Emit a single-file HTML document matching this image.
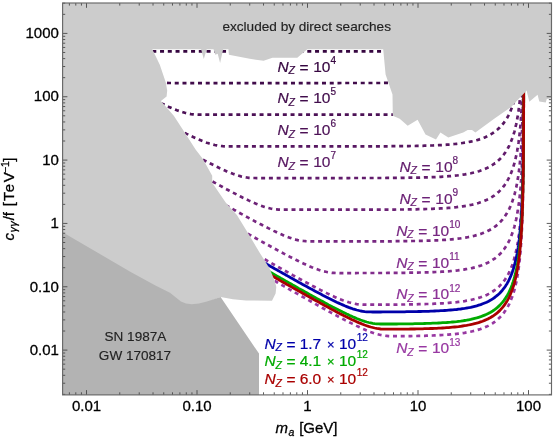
<!DOCTYPE html>
<html><head><meta charset="utf-8"><title>ALP sensitivity plot</title>
<style>.t{stroke-width:0.3px}.u{stroke-width:0.15px}.v{stroke-width:0.22px}html,body{margin:0;padding:0;background:#fff;}body{width:555px;height:438px;overflow:hidden;position:relative}</style>
</head><body>
<svg width="555" height="438" viewBox="0 0 555 438" style="position:absolute;left:0;top:0;will-change:transform">
<rect width="555" height="438" fill="#fff"/>
<path d="M152.3,51.4 L154.3,51.4 L156.3,51.4 L158.3,51.4 L160.3,51.4 L162.3,51.4 L164.3,51.4 L166.3,51.4 L168.3,51.4 L170.3,51.4 L172.3,51.4 L174.3,51.4 L176.3,51.4 L178.3,51.4 L180.3,51.4 L182.3,51.4 L184.3,51.4 L186.3,51.4 L188.3,51.4 L190.3,51.4 L192.3,51.4 L194.3,51.4 L196.3,51.4 L198.3,51.4 L200.3,51.4 L202.3,51.4 L204.3,51.4 L206.3,51.4 L208.3,51.4 L210.3,51.4 L212.3,51.4 L214.3,51.4 L216.3,51.4 L218.3,51.4 L220.3,51.4 L222.3,51.4 L224.3,51.4 L226.3,51.4 L228.3,51.4 L230.3,51.4 L232.3,51.4 L234.3,51.4 L236.3,51.4 L238.3,51.4 L240.3,51.4 L242.3,51.4 L244.3,51.4 L246.3,51.4 L248.3,51.4 L250.3,51.4 L252.3,51.4 L254.3,51.4 L256.3,51.4 L258.3,51.4 L260.3,51.4 L262.3,51.4 L264.3,51.4 L266.3,51.4 L268.3,51.4 L270.3,51.4 L272.3,51.4 L274.3,51.4 L276.3,51.4 L278.3,51.4 L280.3,51.4 L282.3,51.4 L284.3,51.4 L286.3,51.4 L288.3,51.4 L290.3,51.4 L292.3,51.4 L294.3,51.4 L296.3,51.4 L298.3,51.4 L300.3,51.4 L302.3,51.4 L304.3,51.4 L306.3,51.4 L308.3,51.4 L310.3,51.4 L312.3,51.4 L314.3,51.4 L316.3,51.4 L318.3,51.4 L320.3,51.4 L322.3,51.4 L324.3,51.4 L326.3,51.4 L328.3,51.4 L330.3,51.4 L332.3,51.4 L334.3,51.4 L336.3,51.4 L338.3,51.4 L340.3,51.4 L342.3,51.4 L344.3,51.4 L346.3,51.4 L348.3,51.4 L350.3,51.4 L352.3,51.4 L354.3,51.4 L356.3,51.4 L358.3,51.4 L360.3,51.4 L362.3,51.4 L364.3,51.3 L366.3,51.3 L368.3,51.3 L370.3,51.3 L372.3,51.3 L374.3,51.3 L376.3,51.3 L378.3,51.3 L380.3,51.3 L382.3,51.3 L384.3,51.3 L386.0,51.3" fill="none" stroke="#360640" stroke-width="2.7" stroke-dasharray="4 3.75"/>
<path d="M167.0,82.8 L169.0,83.0 L171.0,83.0 L173.0,83.1 L175.0,83.1 L177.0,83.1 L179.0,83.1 L181.0,83.1 L183.0,83.1 L185.0,83.1 L187.0,83.1 L189.0,83.1 L191.0,83.1 L193.0,83.1 L195.0,83.1 L197.0,83.1 L199.0,83.1 L201.0,83.1 L203.0,83.1 L205.0,83.1 L207.0,83.1 L209.0,83.1 L211.0,83.1 L213.0,83.1 L215.0,83.1 L217.0,83.1 L219.0,83.1 L221.0,83.1 L223.0,83.1 L225.0,83.1 L227.0,83.1 L229.0,83.1 L231.0,83.1 L233.0,83.1 L235.0,83.1 L237.0,83.1 L239.0,83.1 L241.0,83.1 L243.0,83.1 L245.0,83.1 L247.0,83.1 L249.0,83.1 L251.0,83.1 L253.0,83.1 L255.0,83.1 L257.0,83.1 L259.0,83.1 L261.0,83.1 L263.0,83.1 L265.0,83.1 L267.0,83.1 L269.0,83.1 L271.0,83.1 L273.0,83.1 L275.0,83.1 L277.0,83.1 L279.0,83.1 L281.0,83.1 L283.0,83.1 L285.0,83.1 L287.0,83.1 L289.0,83.1 L291.0,83.1 L293.0,83.1 L295.0,83.1 L297.0,83.1 L299.0,83.1 L301.0,83.1 L303.0,83.1 L305.0,83.1 L307.0,83.1 L309.0,83.1 L311.0,83.1 L313.0,83.1 L315.0,83.1 L317.0,83.1 L319.0,83.1 L321.0,83.1 L323.0,83.1 L325.0,83.1 L327.0,83.1 L329.0,83.1 L331.0,83.1 L333.0,83.1 L335.0,83.1 L337.0,83.1 L339.0,83.1 L341.0,83.0 L343.0,83.0 L345.0,83.0 L347.0,83.0 L349.0,83.0 L351.0,83.0 L353.0,83.0 L355.0,83.0 L357.0,83.0 L359.0,83.0 L361.0,83.0 L363.0,83.0 L365.0,83.0 L367.0,83.0 L369.0,83.0 L371.0,83.0 L373.0,83.0 L375.0,83.0 L377.0,83.0 L379.0,83.0 L381.0,83.0 L383.0,83.0 L385.0,82.9 L387.0,82.9 L389.0,82.9 L391.0,82.9 L392.0,82.9" fill="none" stroke="#410c4b" stroke-width="2.7" stroke-dasharray="4 3.75"/>
<path d="M160.9,103.1 L162.9,104.1 L164.9,105.0 L166.9,105.9 L168.9,106.9 L170.9,107.7 L172.9,108.6 L174.9,109.4 L176.9,110.2 L178.9,110.9 L180.9,111.6 L182.9,112.2 L184.9,112.8 L186.9,113.3 L188.9,113.7 L190.9,114.1 L192.9,114.3 L194.9,114.5 L196.9,114.6 L198.9,114.7 L200.9,114.7 L202.9,114.7 L204.9,114.7 L206.9,114.7 L208.9,114.7 L210.9,114.7 L212.9,114.7 L214.9,114.7 L216.9,114.7 L218.9,114.7 L220.9,114.7 L222.9,114.7 L224.9,114.7 L226.9,114.7 L228.9,114.7 L230.9,114.7 L232.9,114.7 L234.9,114.7 L236.9,114.7 L238.9,114.7 L240.9,114.7 L242.9,114.7 L244.9,114.7 L246.9,114.7 L248.9,114.7 L250.9,114.7 L252.9,114.7 L254.9,114.7 L256.9,114.7 L258.9,114.7 L260.9,114.7 L262.9,114.7 L264.9,114.7 L266.9,114.7 L268.9,114.7 L270.9,114.7 L272.9,114.7 L274.9,114.7 L276.9,114.7 L278.9,114.7 L280.9,114.7 L282.9,114.7 L284.9,114.7 L286.9,114.7 L288.9,114.7 L290.9,114.7 L292.9,114.7 L294.9,114.7 L296.9,114.7 L298.9,114.7 L300.9,114.7 L302.9,114.7 L304.9,114.7 L306.9,114.7 L308.9,114.7 L310.9,114.7 L312.9,114.7 L314.9,114.7 L316.9,114.7 L318.9,114.7 L320.9,114.7 L322.9,114.7 L324.9,114.7 L326.9,114.7 L328.9,114.7 L330.9,114.7 L332.9,114.7 L334.9,114.7 L336.9,114.7 L338.9,114.7 L340.9,114.7 L342.9,114.7 L344.9,114.7 L346.9,114.7 L348.9,114.7 L350.9,114.7 L352.9,114.7 L354.9,114.7 L356.9,114.7 L358.9,114.7 L360.9,114.7 L362.9,114.7 L364.9,114.7 L366.9,114.7 L368.9,114.7 L370.9,114.7 L372.9,114.7 L374.9,114.7 L376.9,114.6 L378.9,114.6 L380.9,114.6 L382.9,114.6 L384.9,114.6 L386.9,114.6 L388.9,114.6 L390.9,114.6 L392.9,114.6 L394.9,114.5 L395.0,114.5" fill="none" stroke="#4c1156" stroke-width="2.7" stroke-dasharray="4 3.75"/>
<path d="M184.7,132.9 L186.7,133.9 L188.7,134.8 L190.7,135.8 L192.7,136.8 L194.7,137.7 L196.7,138.6 L198.7,139.5 L200.7,140.3 L202.7,141.1 L204.7,141.9 L206.7,142.7 L208.7,143.3 L210.7,144.0 L212.7,144.5 L214.7,145.0 L216.7,145.4 L218.7,145.8 L220.7,146.0 L222.7,146.2 L224.7,146.3 L226.7,146.4 L228.7,146.4 L230.7,146.4 L232.7,146.4 L234.7,146.4 L236.7,146.4 L238.7,146.4 L240.7,146.4 L242.7,146.4 L244.7,146.4 L246.7,146.4 L248.7,146.4 L250.7,146.4 L252.7,146.4 L254.7,146.4 L256.7,146.4 L258.7,146.4 L260.7,146.4 L262.7,146.4 L264.7,146.4 L266.7,146.4 L268.7,146.4 L270.7,146.4 L272.7,146.4 L274.7,146.4 L276.7,146.4 L278.7,146.4 L280.7,146.4 L282.7,146.4 L284.7,146.4 L286.7,146.4 L288.7,146.4 L290.7,146.4 L292.7,146.4 L294.7,146.4 L296.7,146.4 L298.7,146.4 L300.7,146.4 L302.7,146.4 L304.7,146.4 L306.7,146.4 L308.7,146.4 L310.7,146.4 L312.7,146.4 L314.7,146.4 L316.7,146.4 L318.7,146.4 L320.7,146.4 L322.7,146.4 L324.7,146.4 L326.7,146.4 L328.7,146.4 L330.7,146.4 L332.7,146.4 L334.7,146.4 L336.7,146.4 L338.7,146.4 L340.7,146.4 L342.7,146.4 L344.7,146.4 L346.7,146.4 L348.7,146.4 L350.7,146.4 L352.7,146.4 L354.7,146.4 L356.7,146.4 L358.7,146.4 L360.7,146.4 L362.7,146.4 L364.7,146.4 L366.7,146.4 L368.7,146.3 L370.7,146.3 L372.7,146.3 L374.7,146.3 L376.7,146.3 L378.7,146.3 L380.7,146.3 L382.7,146.3 L384.7,146.3 L386.7,146.3 L388.7,146.3 L390.7,146.2 L392.7,146.2 L394.7,146.2 L396.7,146.2 L398.7,146.2 L400.7,146.2 L402.7,146.1 L404.7,146.1 L406.7,146.1 L408.7,146.1 L410.7,146.0 L412.7,146.0 L414.7,146.0 L416.7,145.9 L418.7,145.9 L420.7,145.8 L422.7,145.8 L424.7,145.7 L426.7,145.7 L428.7,145.6 L430.7,145.5 L432.7,145.5 L434.7,145.4 L436.7,145.3 L438.7,145.2 L440.7,145.1 L442.7,145.0 L444.7,144.9 L446.7,144.7 L448.7,144.6 L450.7,144.4 L452.7,144.2 L454.7,144.0 L456.7,143.8 L458.7,143.6 L460.7,143.3 L462.7,143.0 L464.7,142.7 L466.7,142.4 L468.7,142.0 L470.7,141.6 L472.7,141.2 L474.7,140.7 L476.7,140.2 L478.7,139.6 L480.7,138.9 L482.7,138.2 L484.7,137.4 L486.7,136.5 L488.7,135.5 L490.7,134.4 L492.7,133.2 L494.7,131.8 L495.0,131.6 L496.3,130.6 L497.5,129.6 L498.6,128.6 L499.7,127.6 L500.6,126.6 L501.5,125.6 L502.4,124.6 L503.2,123.6 L504.0,122.6 L504.7,121.6 L505.4,120.6 L506.0,119.6 L506.7,118.6 L507.3,117.6 L507.8,116.6 L508.4,115.6 L508.9,114.6 L509.4,113.6 L509.8,112.6 L510.3,111.6 L510.7,110.6 L511.1,109.6 L511.5,108.6 L511.9,107.6 L512.3,106.6 L512.6,105.6 L512.9,104.6 L513.3,103.6 L513.6,102.6 L513.9,101.6 L514.2,100.6 L514.5,99.6 L514.7,98.6 L515.0,97.6 L515.2,96.6 L515.5,95.6 L515.7,94.6 L515.9,93.6 L516.2,92.6 L516.4,91.6 L516.6,90.6 L516.8,89.6 L517.0,88.6 L517.2,87.6 L517.3,86.6" fill="none" stroke="#571761" stroke-width="2.7" stroke-dasharray="4 3.75"/>
<path d="M202.9,159.6 L204.9,160.7 L206.9,161.7 L208.9,162.8 L210.9,163.8 L212.9,164.8 L214.9,165.8 L216.9,166.8 L218.9,167.8 L220.9,168.7 L222.9,169.6 L224.9,170.5 L226.9,171.4 L228.9,172.2 L230.9,173.0 L232.9,173.8 L234.9,174.5 L236.9,175.2 L238.9,175.8 L240.9,176.4 L242.9,176.8 L244.9,177.2 L246.9,177.5 L248.9,177.8 L250.9,177.9 L252.9,178.0 L254.9,178.0 L256.9,178.1 L258.9,178.1 L260.9,178.1 L262.9,178.1 L264.9,178.1 L266.9,178.1 L268.9,178.1 L270.9,178.1 L272.9,178.1 L274.9,178.1 L276.9,178.1 L278.9,178.1 L280.9,178.1 L282.9,178.1 L284.9,178.1 L286.9,178.1 L288.9,178.1 L290.9,178.1 L292.9,178.1 L294.9,178.1 L296.9,178.1 L298.9,178.1 L300.9,178.1 L302.9,178.1 L304.9,178.1 L306.9,178.1 L308.9,178.1 L310.9,178.1 L312.9,178.1 L314.9,178.1 L316.9,178.1 L318.9,178.1 L320.9,178.1 L322.9,178.1 L324.9,178.1 L326.9,178.1 L328.9,178.1 L330.9,178.1 L332.9,178.1 L334.9,178.1 L336.9,178.1 L338.9,178.1 L340.9,178.1 L342.9,178.1 L344.9,178.1 L346.9,178.1 L348.9,178.1 L350.9,178.0 L352.9,178.0 L354.9,178.0 L356.9,178.0 L358.9,178.0 L360.9,178.0 L362.9,178.0 L364.9,178.0 L366.9,178.0 L368.9,178.0 L370.9,178.0 L372.9,178.0 L374.9,178.0 L376.9,178.0 L378.9,178.0 L380.9,178.0 L382.9,178.0 L384.9,178.0 L386.9,177.9 L388.9,177.9 L390.9,177.9 L392.9,177.9 L394.9,177.9 L396.9,177.9 L398.9,177.9 L400.9,177.8 L402.9,177.8 L404.9,177.8 L406.9,177.8 L408.9,177.7 L410.9,177.7 L412.9,177.7 L414.9,177.6 L416.9,177.6 L418.9,177.6 L420.9,177.5 L422.9,177.5 L424.9,177.4 L426.9,177.3 L428.9,177.3 L430.9,177.2 L432.9,177.1 L434.9,177.1 L436.9,177.0 L438.9,176.9 L440.9,176.8 L442.9,176.6 L444.9,176.5 L446.9,176.4 L448.9,176.2 L450.9,176.1 L452.9,175.9 L454.9,175.7 L456.9,175.5 L458.9,175.2 L460.9,175.0 L462.9,174.7 L464.9,174.4 L466.9,174.0 L468.9,173.7 L470.9,173.3 L472.9,172.8 L474.9,172.3 L476.9,171.8 L478.9,171.2 L480.9,170.5 L482.9,169.8 L484.9,169.0 L486.9,168.1 L488.9,167.1 L490.9,166.0 L492.9,164.7 L494.9,163.3 L495.0,163.3 L496.3,162.3 L497.5,161.3 L498.6,160.3 L499.7,159.3 L500.6,158.3 L501.5,157.3 L502.4,156.3 L503.2,155.3 L504.0,154.3 L504.7,153.3 L505.4,152.3 L506.0,151.3 L506.7,150.3 L507.3,149.3 L507.8,148.3 L508.4,147.3 L508.9,146.3 L509.4,145.3 L509.8,144.3 L510.3,143.3 L510.7,142.3 L511.1,141.3 L511.5,140.3 L511.9,139.3 L512.3,138.3 L512.6,137.3 L512.9,136.3 L513.3,135.3 L513.6,134.3 L513.9,133.3 L514.2,132.3 L514.5,131.3 L514.7,130.3 L515.0,129.3 L515.2,128.3 L515.5,127.3 L515.7,126.3 L515.9,125.3 L516.2,124.3 L516.4,123.3 L516.6,122.3 L516.8,121.3 L517.0,120.3 L517.2,119.3 L517.3,118.3 L517.5,117.3 L517.7,116.3 L517.9,115.3 L518.0,114.3 L518.2,113.3 L518.3,112.3 L518.5,111.3 L518.6,110.3 L518.7,109.3 L518.9,108.3 L519.0,107.3 L519.1,106.3 L519.3,105.3 L519.4,104.3 L519.5,103.3 L519.6,102.3 L519.7,101.3 L519.8,100.3 L519.9,99.3 L520.0,98.3 L520.1,97.3 L520.2,96.3 L520.3,95.3 L520.4,94.3 L520.5,93.3 L520.6,92.3 L520.6,91.3 L520.7,90.3 L520.8,89.3 L520.9,88.3 L520.9,87.3 L521.0,86.3" fill="none" stroke="#621c6c" stroke-width="2.7" stroke-dasharray="4 3.75"/>
<path d="M212.5,181.5 L214.5,182.6 L216.5,183.7 L218.5,184.8 L220.5,185.9 L222.5,187.0 L224.5,188.1 L226.5,189.2 L228.5,190.2 L230.5,191.3 L232.5,192.4 L234.5,193.4 L236.5,194.4 L238.5,195.5 L240.5,196.5 L242.5,197.5 L244.5,198.4 L246.5,199.4 L248.5,200.4 L250.5,201.3 L252.5,202.2 L254.5,203.1 L256.5,203.9 L258.5,204.7 L260.5,205.5 L262.5,206.2 L264.5,206.9 L266.5,207.5 L268.5,208.0 L270.5,208.5 L272.5,208.9 L274.5,209.2 L276.5,209.4 L278.5,209.6 L280.5,209.7 L282.5,209.7 L284.5,209.7 L286.5,209.7 L288.5,209.7 L290.5,209.7 L292.5,209.7 L294.5,209.7 L296.5,209.7 L298.5,209.7 L300.5,209.7 L302.5,209.7 L304.5,209.7 L306.5,209.7 L308.5,209.7 L310.5,209.7 L312.5,209.7 L314.5,209.7 L316.5,209.7 L318.5,209.7 L320.5,209.7 L322.5,209.7 L324.5,209.7 L326.5,209.7 L328.5,209.7 L330.5,209.7 L332.5,209.7 L334.5,209.7 L336.5,209.7 L338.5,209.7 L340.5,209.7 L342.5,209.7 L344.5,209.7 L346.5,209.7 L348.5,209.7 L350.5,209.7 L352.5,209.7 L354.5,209.7 L356.5,209.7 L358.5,209.7 L360.5,209.7 L362.5,209.7 L364.5,209.7 L366.5,209.7 L368.5,209.7 L370.5,209.7 L372.5,209.7 L374.5,209.7 L376.5,209.7 L378.5,209.7 L380.5,209.6 L382.5,209.6 L384.5,209.6 L386.5,209.6 L388.5,209.6 L390.5,209.6 L392.5,209.6 L394.5,209.6 L396.5,209.5 L398.5,209.5 L400.5,209.5 L402.5,209.5 L404.5,209.5 L406.5,209.4 L408.5,209.4 L410.5,209.4 L412.5,209.3 L414.5,209.3 L416.5,209.3 L418.5,209.2 L420.5,209.2 L422.5,209.1 L424.5,209.1 L426.5,209.0 L428.5,209.0 L430.5,208.9 L432.5,208.8 L434.5,208.7 L436.5,208.6 L438.5,208.6 L440.5,208.4 L442.5,208.3 L444.5,208.2 L446.5,208.1 L448.5,207.9 L450.5,207.8 L452.5,207.6 L454.5,207.4 L456.5,207.2 L458.5,206.9 L460.5,206.7 L462.5,206.4 L464.5,206.1 L466.5,205.8 L468.5,205.4 L470.5,205.0 L472.5,204.6 L474.5,204.1 L476.5,203.6 L478.5,203.0 L480.5,202.3 L482.5,201.6 L484.5,200.8 L486.5,199.9 L488.5,199.0 L490.5,197.9 L492.5,196.7 L494.5,195.3 L495.0,194.9 L496.3,193.9 L497.5,192.9 L498.6,191.9 L499.7,190.9 L500.6,189.9 L501.5,188.9 L502.4,187.9 L503.2,186.9 L504.0,185.9 L504.7,184.9 L505.4,183.9 L506.0,182.9 L506.7,181.9 L507.3,180.9 L507.8,179.9 L508.4,178.9 L508.9,177.9 L509.4,176.9 L509.8,175.9 L510.3,174.9 L510.7,173.9 L511.1,172.9 L511.5,171.9 L511.9,170.9 L512.3,169.9 L512.6,168.9 L512.9,167.9 L513.3,166.9 L513.6,165.9 L513.9,164.9 L514.2,163.9 L514.5,162.9 L514.7,161.9 L515.0,160.9 L515.2,159.9 L515.5,158.9 L515.7,157.9 L515.9,156.9 L516.2,155.9 L516.4,154.9 L516.6,153.9 L516.8,152.9 L517.0,151.9 L517.2,150.9 L517.3,149.9 L517.5,148.9 L517.7,147.9 L517.9,146.9 L518.0,145.9 L518.2,144.9 L518.3,143.9 L518.5,142.9 L518.6,141.9 L518.7,140.9 L518.9,139.9 L519.0,138.9 L519.1,137.9 L519.3,136.9 L519.4,135.9 L519.5,134.9 L519.6,133.9 L519.7,132.9 L519.8,131.9 L519.9,130.9 L520.0,129.9 L520.1,128.9 L520.2,127.9 L520.3,126.9 L520.4,125.9 L520.5,124.9 L520.6,123.9 L520.6,122.9 L520.7,121.9 L520.8,120.9 L520.9,119.9 L520.9,118.9 L521.0,117.9 L521.1,116.9 L521.2,115.9 L521.2,114.9 L521.3,113.9 L521.3,112.9 L521.4,111.9 L521.5,110.9 L521.5,109.9 L521.6,108.9 L521.6,107.9 L521.7,106.9 L521.7,105.9 L521.8,104.9 L521.8,103.9 L521.9,102.9 L521.9,101.9 L522.0,100.9 L522.0,99.9 L522.1,98.9 L522.1,97.9 L522.2,96.9 L522.2,95.9 L522.2,94.9 L522.3,93.9 L522.3,92.9 L522.3,91.9 L522.4,90.9 L522.4,89.9 L522.4,88.9 L522.5,87.9 L522.5,86.9" fill="none" stroke="#6c2276" stroke-width="2.7" stroke-dasharray="4 3.75"/>
<path d="M225.7,205.1 L227.7,206.3 L229.7,207.4 L231.7,208.5 L233.7,209.6 L235.7,210.7 L237.7,211.9 L239.7,213.0 L241.7,214.1 L243.7,215.2 L245.7,216.3 L247.7,217.4 L249.7,218.5 L251.7,219.5 L253.7,220.6 L255.7,221.7 L257.7,222.7 L259.7,223.8 L261.7,224.8 L263.7,225.9 L265.7,226.9 L267.7,227.9 L269.7,228.9 L271.7,229.9 L273.7,230.9 L275.7,231.8 L277.7,232.8 L279.7,233.7 L281.7,234.5 L283.7,235.4 L285.7,236.2 L287.7,237.0 L289.7,237.7 L291.7,238.4 L293.7,239.0 L295.7,239.6 L297.7,240.1 L299.7,240.5 L301.7,240.8 L303.7,241.0 L305.7,241.2 L307.7,241.3 L309.7,241.4 L311.7,241.4 L313.7,241.4 L315.7,241.4 L317.7,241.4 L319.7,241.4 L321.7,241.4 L323.7,241.4 L325.7,241.4 L327.7,241.4 L329.7,241.4 L331.7,241.4 L333.7,241.4 L335.7,241.4 L337.7,241.4 L339.7,241.4 L341.7,241.4 L343.7,241.4 L345.7,241.4 L347.7,241.4 L349.7,241.4 L351.7,241.4 L353.7,241.4 L355.7,241.4 L357.7,241.4 L359.7,241.4 L361.7,241.4 L363.7,241.4 L365.7,241.4 L367.7,241.4 L369.7,241.4 L371.7,241.3 L373.7,241.3 L375.7,241.3 L377.7,241.3 L379.7,241.3 L381.7,241.3 L383.7,241.3 L385.7,241.3 L387.7,241.3 L389.7,241.3 L391.7,241.3 L393.7,241.2 L395.7,241.2 L397.7,241.2 L399.7,241.2 L401.7,241.2 L403.7,241.1 L405.7,241.1 L407.7,241.1 L409.7,241.1 L411.7,241.0 L413.7,241.0 L415.7,241.0 L417.7,240.9 L419.7,240.9 L421.7,240.8 L423.7,240.8 L425.7,240.7 L427.7,240.7 L429.7,240.6 L431.7,240.5 L433.7,240.4 L435.7,240.4 L437.7,240.3 L439.7,240.2 L441.7,240.0 L443.7,239.9 L445.7,239.8 L447.7,239.6 L449.7,239.5 L451.7,239.3 L453.7,239.1 L455.7,238.9 L457.7,238.7 L459.7,238.5 L461.7,238.2 L463.7,237.9 L465.7,237.6 L467.7,237.2 L469.7,236.8 L471.7,236.4 L473.7,236.0 L475.7,235.4 L477.7,234.9 L479.7,234.3 L481.7,233.6 L483.7,232.8 L485.7,232.0 L487.7,231.0 L489.7,230.0 L491.7,228.8 L493.7,227.5 L495.0,226.6 L496.3,225.6 L497.5,224.6 L498.6,223.6 L499.7,222.6 L500.6,221.6 L501.5,220.6 L502.4,219.6 L503.2,218.6 L504.0,217.6 L504.7,216.6 L505.4,215.6 L506.0,214.6 L506.7,213.6 L507.3,212.6 L507.8,211.6 L508.4,210.6 L508.9,209.6 L509.4,208.6 L509.8,207.6 L510.3,206.6 L510.7,205.6 L511.1,204.6 L511.5,203.6 L511.9,202.6 L512.3,201.6 L512.6,200.6 L512.9,199.6 L513.3,198.6 L513.6,197.6 L513.9,196.6 L514.2,195.6 L514.5,194.6 L514.7,193.6 L515.0,192.6 L515.2,191.6 L515.5,190.6 L515.7,189.6 L515.9,188.6 L516.2,187.6 L516.4,186.6 L516.6,185.6 L516.8,184.6 L517.0,183.6 L517.2,182.6 L517.3,181.6 L517.5,180.6 L517.7,179.6 L517.9,178.6 L518.0,177.6 L518.2,176.6 L518.3,175.6 L518.5,174.6 L518.6,173.6 L518.7,172.6 L518.9,171.6 L519.0,170.6 L519.1,169.6 L519.3,168.6 L519.4,167.6 L519.5,166.6 L519.6,165.6 L519.7,164.6 L519.8,163.6 L519.9,162.6 L520.0,161.6 L520.1,160.6 L520.2,159.6 L520.3,158.6 L520.4,157.6 L520.5,156.6 L520.6,155.6 L520.6,154.6 L520.7,153.6 L520.8,152.6 L520.9,151.6 L520.9,150.6 L521.0,149.6 L521.1,148.6 L521.2,147.6 L521.2,146.6 L521.3,145.6 L521.3,144.6 L521.4,143.6 L521.5,142.6 L521.5,141.6 L521.6,140.6 L521.6,139.6 L521.7,138.6 L521.7,137.6 L521.8,136.6 L521.8,135.6 L521.9,134.6 L521.9,133.6 L522.0,132.6 L522.0,131.6 L522.1,130.6 L522.1,129.6 L522.2,128.6 L522.2,127.6 L522.2,126.6 L522.3,125.6 L522.3,124.6 L522.3,123.6 L522.4,122.6 L522.4,121.6 L522.4,120.6 L522.5,119.6 L522.5,118.6 L522.5,117.6 L522.6,116.6 L522.6,115.6 L522.6,114.6 L522.7,113.6 L522.7,112.6 L522.7,111.6 L522.7,110.6 L522.8,109.6 L522.8,108.6 L522.8,107.6 L522.8,106.6 L522.9,105.6 L522.9,104.6 L522.9,103.6 L522.9,102.6 L522.9,101.6 L523.0,100.6 L523.0,99.6 L523.0,98.6 L523.0,97.6 L523.0,96.6 L523.1,95.6 L523.1,94.6 L523.1,93.6 L523.1,92.6 L523.1,91.6 L523.1,90.6 L523.1,89.6 L523.2,88.6 L523.2,87.6 L523.2,86.6" fill="none" stroke="#772781" stroke-width="2.7" stroke-dasharray="4 3.75"/>
<path d="M247.8,233.7 L249.8,234.8 L251.8,236.0 L253.8,237.1 L255.8,238.2 L257.8,239.3 L259.8,240.5 L261.8,241.6 L263.8,242.7 L265.8,243.8 L267.8,244.9 L269.8,246.0 L271.8,247.1 L273.8,248.2 L275.8,249.3 L277.8,250.4 L279.8,251.5 L281.8,252.5 L283.8,253.6 L285.8,254.7 L287.8,255.7 L289.8,256.8 L291.8,257.8 L293.8,258.8 L295.8,259.8 L297.8,260.8 L299.8,261.8 L301.8,262.8 L303.8,263.7 L305.8,264.6 L307.8,265.5 L309.8,266.4 L311.8,267.3 L313.8,268.1 L315.8,268.8 L317.8,269.5 L319.8,270.2 L321.8,270.8 L323.8,271.4 L325.8,271.8 L327.8,272.2 L329.8,272.5 L331.8,272.8 L333.8,272.9 L335.8,273.0 L337.8,273.0 L339.8,273.1 L341.8,273.1 L343.8,273.1 L345.8,273.1 L347.8,273.1 L349.8,273.1 L351.8,273.1 L353.8,273.1 L355.8,273.1 L357.8,273.0 L359.8,273.0 L361.8,273.0 L363.8,273.0 L365.8,273.0 L367.8,273.0 L369.8,273.0 L371.8,273.0 L373.8,273.0 L375.8,273.0 L377.8,273.0 L379.8,273.0 L381.8,273.0 L383.8,273.0 L385.8,273.0 L387.8,272.9 L389.8,272.9 L391.8,272.9 L393.8,272.9 L395.8,272.9 L397.8,272.9 L399.8,272.9 L401.8,272.8 L403.8,272.8 L405.8,272.8 L407.8,272.8 L409.8,272.7 L411.8,272.7 L413.8,272.7 L415.8,272.6 L417.8,272.6 L419.8,272.5 L421.8,272.5 L423.8,272.4 L425.8,272.4 L427.8,272.3 L429.8,272.3 L431.8,272.2 L433.8,272.1 L435.8,272.0 L437.8,271.9 L439.8,271.8 L441.8,271.7 L443.8,271.6 L445.8,271.5 L447.8,271.3 L449.8,271.2 L451.8,271.0 L453.8,270.8 L455.8,270.6 L457.8,270.4 L459.8,270.1 L461.8,269.8 L463.8,269.6 L465.8,269.2 L467.8,268.9 L469.8,268.5 L471.8,268.1 L473.8,267.6 L475.8,267.1 L477.8,266.5 L479.8,265.9 L481.8,265.2 L483.8,264.4 L485.8,263.6 L487.8,262.7 L489.8,261.6 L491.8,260.4 L493.8,259.1 L495.0,258.3 L496.3,257.3 L497.5,256.3 L498.6,255.3 L499.7,254.3 L500.6,253.3 L501.5,252.3 L502.4,251.3 L503.2,250.3 L504.0,249.3 L504.7,248.3 L505.4,247.3 L506.0,246.3 L506.7,245.3 L507.3,244.3 L507.8,243.3 L508.4,242.3 L508.9,241.3 L509.4,240.3 L509.8,239.3 L510.3,238.3 L510.7,237.3 L511.1,236.3 L511.5,235.3 L511.9,234.3 L512.3,233.3 L512.6,232.3 L512.9,231.3 L513.3,230.3 L513.6,229.3 L513.9,228.3 L514.2,227.3 L514.5,226.3 L514.7,225.3 L515.0,224.3 L515.2,223.3 L515.5,222.3 L515.7,221.3 L515.9,220.3 L516.2,219.3 L516.4,218.3 L516.6,217.3 L516.8,216.3 L517.0,215.3 L517.2,214.3 L517.3,213.3 L517.5,212.3 L517.7,211.3 L517.9,210.3 L518.0,209.3 L518.2,208.3 L518.3,207.3 L518.5,206.3 L518.6,205.3 L518.7,204.3 L518.9,203.3 L519.0,202.3 L519.1,201.3 L519.3,200.3 L519.4,199.3 L519.5,198.3 L519.6,197.3 L519.7,196.3 L519.8,195.3 L519.9,194.3 L520.0,193.3 L520.1,192.3 L520.2,191.3 L520.3,190.3 L520.4,189.3 L520.5,188.3 L520.6,187.3 L520.6,186.3 L520.7,185.3 L520.8,184.3 L520.9,183.3 L520.9,182.3 L521.0,181.3 L521.1,180.3 L521.2,179.3 L521.2,178.3 L521.3,177.3 L521.3,176.3 L521.4,175.3 L521.5,174.3 L521.5,173.3 L521.6,172.3 L521.6,171.3 L521.7,170.3 L521.7,169.3 L521.8,168.3 L521.8,167.3 L521.9,166.3 L521.9,165.3 L522.0,164.3 L522.0,163.3 L522.1,162.3 L522.1,161.3 L522.2,160.3 L522.2,159.3 L522.2,158.3 L522.3,157.3 L522.3,156.3 L522.3,155.3 L522.4,154.3 L522.4,153.3 L522.4,152.3 L522.5,151.3 L522.5,150.3 L522.5,149.3 L522.6,148.3 L522.6,147.3 L522.6,146.3 L522.7,145.3 L522.7,144.3 L522.7,143.3 L522.7,142.3 L522.8,141.3 L522.8,140.3 L522.8,139.3 L522.8,138.3 L522.9,137.3 L522.9,136.3 L522.9,135.3 L522.9,134.3 L522.9,133.3 L523.0,132.3 L523.0,131.3 L523.0,130.3 L523.0,129.3 L523.0,128.3 L523.1,127.3 L523.1,126.3 L523.1,125.3 L523.1,124.3 L523.1,123.3 L523.1,122.3 L523.1,121.3 L523.2,120.3 L523.2,119.3 L523.2,118.3 L523.2,117.3 L523.2,116.3 L523.2,115.3 L523.2,114.3 L523.3,113.3 L523.3,112.3 L523.3,111.3 L523.3,110.3 L523.3,109.3 L523.3,108.3 L523.3,107.3 L523.3,106.3 L523.3,105.3 L523.4,104.3 L523.4,103.3 L523.4,102.3 L523.4,101.3 L523.4,100.3 L523.4,99.3 L523.4,98.3 L523.4,97.3 L523.4,96.3 L523.4,95.3 L523.4,94.3 L523.5,93.3 L523.5,92.3 L523.5,91.3 L523.5,90.3 L523.5,89.3 L523.5,88.3 L523.5,87.3 L523.5,86.3" fill="none" stroke="#822d8c" stroke-width="2.7" stroke-dasharray="4 3.75"/>
<path d="M264.7,259.3 L266.7,260.4 L268.7,261.6 L270.7,262.7 L272.7,263.8 L274.7,265.0 L276.7,266.1 L278.7,267.2 L280.7,268.3 L282.7,269.5 L284.7,270.6 L286.7,271.7 L288.7,272.8 L290.7,273.9 L292.7,275.1 L294.7,276.2 L296.7,277.3 L298.7,278.4 L300.7,279.5 L302.7,280.6 L304.7,281.7 L306.7,282.7 L308.7,283.8 L310.7,284.9 L312.7,286.0 L314.7,287.0 L316.7,288.1 L318.7,289.1 L320.7,290.1 L322.7,291.1 L324.7,292.1 L326.7,293.1 L328.7,294.1 L330.7,295.0 L332.7,296.0 L334.7,296.9 L336.7,297.8 L338.7,298.6 L340.7,299.4 L342.7,300.2 L344.7,300.9 L346.7,301.6 L348.7,302.3 L350.7,302.8 L352.7,303.3 L354.7,303.7 L356.7,304.1 L358.7,304.3 L360.7,304.5 L362.7,304.6 L364.7,304.7 L366.7,304.7 L368.7,304.7 L370.7,304.7 L372.7,304.7 L374.7,304.7 L376.7,304.7 L378.7,304.7 L380.7,304.7 L382.7,304.6 L384.7,304.6 L386.7,304.6 L388.7,304.6 L390.7,304.6 L392.7,304.6 L394.7,304.6 L396.7,304.6 L398.7,304.5 L400.7,304.5 L402.7,304.5 L404.7,304.5 L406.7,304.4 L408.7,304.4 L410.7,304.4 L412.7,304.4 L414.7,304.3 L416.7,304.3 L418.7,304.2 L420.7,304.2 L422.7,304.1 L424.7,304.1 L426.7,304.0 L428.7,304.0 L430.7,303.9 L432.7,303.8 L434.7,303.7 L436.7,303.6 L438.7,303.6 L440.7,303.4 L442.7,303.3 L444.7,303.2 L446.7,303.1 L448.7,302.9 L450.7,302.7 L452.7,302.6 L454.7,302.4 L456.7,302.2 L458.7,301.9 L460.7,301.7 L462.7,301.4 L464.7,301.1 L466.7,300.7 L468.7,300.4 L470.7,300.0 L472.7,299.5 L474.7,299.0 L476.7,298.5 L478.7,297.9 L480.7,297.3 L482.7,296.5 L484.7,295.7 L486.7,294.9 L488.7,293.9 L490.7,292.8 L492.7,291.5 L494.7,290.2 L495.0,289.9 L496.3,288.9 L497.5,287.9 L498.6,286.9 L499.7,285.9 L500.6,284.9 L501.5,283.9 L502.4,282.9 L503.2,281.9 L504.0,280.9 L504.7,279.9 L505.4,278.9 L506.0,277.9 L506.7,276.9 L507.3,275.9 L507.8,274.9 L508.4,273.9 L508.9,272.9 L509.4,271.9 L509.8,270.9 L510.3,269.9 L510.7,268.9 L511.1,267.9 L511.5,266.9 L511.9,265.9 L512.3,264.9 L512.6,263.9 L512.9,262.9 L513.3,261.9 L513.6,260.9 L513.9,259.9 L514.2,258.9 L514.5,257.9 L514.7,256.9 L515.0,255.9 L515.2,254.9 L515.5,253.9 L515.7,252.9 L515.9,251.9 L516.2,250.9 L516.4,249.9 L516.6,248.9 L516.8,247.9 L517.0,246.9 L517.2,245.9 L517.3,244.9 L517.5,243.9 L517.7,242.9 L517.9,241.9 L518.0,240.9 L518.2,239.9 L518.3,238.9 L518.5,237.9 L518.6,236.9 L518.7,235.9 L518.9,234.9 L519.0,233.9 L519.1,232.9 L519.3,231.9 L519.4,230.9 L519.5,229.9 L519.6,228.9 L519.7,227.9 L519.8,226.9 L519.9,225.9 L520.0,224.9 L520.1,223.9 L520.2,222.9 L520.3,221.9 L520.4,220.9 L520.5,219.9 L520.6,218.9 L520.6,217.9 L520.7,216.9 L520.8,215.9 L520.9,214.9 L520.9,213.9 L521.0,212.9 L521.1,211.9 L521.2,210.9 L521.2,209.9 L521.3,208.9 L521.3,207.9 L521.4,206.9 L521.5,205.9 L521.5,204.9 L521.6,203.9 L521.6,202.9 L521.7,201.9 L521.7,200.9 L521.8,199.9 L521.8,198.9 L521.9,197.9 L521.9,196.9 L522.0,195.9 L522.0,194.9 L522.1,193.9 L522.1,192.9 L522.2,191.9 L522.2,190.9 L522.2,189.9 L522.3,188.9 L522.3,187.9 L522.3,186.9 L522.4,185.9 L522.4,184.9 L522.4,183.9 L522.5,182.9 L522.5,181.9 L522.5,180.9 L522.6,179.9 L522.6,178.9 L522.6,177.9 L522.7,176.9 L522.7,175.9 L522.7,174.9 L522.7,173.9 L522.8,172.9 L522.8,171.9 L522.8,170.9 L522.8,169.9 L522.9,168.9 L522.9,167.9 L522.9,166.9 L522.9,165.9 L522.9,164.9 L523.0,163.9 L523.0,162.9 L523.0,161.9 L523.0,160.9 L523.0,159.9 L523.1,158.9 L523.1,157.9 L523.1,156.9 L523.1,155.9 L523.1,154.9 L523.1,153.9 L523.1,152.9 L523.2,151.9 L523.2,150.9 L523.2,149.9 L523.2,148.9 L523.2,147.9 L523.2,146.9 L523.2,145.9 L523.3,144.9 L523.3,143.9 L523.3,142.9 L523.3,141.9 L523.3,140.9 L523.3,139.9 L523.3,138.9 L523.3,137.9 L523.3,136.9 L523.4,135.9 L523.4,134.9 L523.4,133.9 L523.4,132.9 L523.4,131.9 L523.4,130.9 L523.4,129.9 L523.4,128.9 L523.4,127.9 L523.4,126.9 L523.4,125.9 L523.5,124.9 L523.5,123.9 L523.5,122.9 L523.5,121.9 L523.5,120.9 L523.5,119.9 L523.5,118.9 L523.5,117.9 L523.5,116.9 L523.5,115.9 L523.5,114.9 L523.5,113.9 L523.5,112.9 L523.5,111.9 L523.5,110.9 L523.5,109.9 L523.6,108.9 L523.6,107.9 L523.6,106.9 L523.6,105.9 L523.6,104.9 L523.6,103.9 L523.6,102.9 L523.6,101.9 L523.6,100.9 L523.6,99.9 L523.6,98.9 L523.6,97.9 L523.6,96.9 L523.6,95.9 L523.6,94.9 L523.6,93.9 L523.6,92.9 L523.6,91.9 L523.6,90.9 L523.6,89.9 L523.6,88.9 L523.6,87.9 L523.6,86.9" fill="none" stroke="#8d3297" stroke-width="2.7" stroke-dasharray="4 3.75"/>
<path d="M274.6,280.9 L276.6,282.0 L278.6,283.2 L280.6,284.3 L282.6,285.4 L284.6,286.6 L286.6,287.7 L288.6,288.9 L290.6,290.0 L292.6,291.1 L294.6,292.3 L296.6,293.4 L298.6,294.5 L300.6,295.7 L302.6,296.8 L304.6,297.9 L306.6,299.0 L308.6,300.2 L310.6,301.3 L312.6,302.4 L314.6,303.5 L316.6,304.7 L318.6,305.8 L320.6,306.9 L322.6,308.0 L324.6,309.1 L326.6,310.2 L328.6,311.3 L330.6,312.4 L332.6,313.5 L334.6,314.6 L336.6,315.6 L338.6,316.7 L340.6,317.8 L342.6,318.8 L344.6,319.9 L346.6,320.9 L348.6,321.9 L350.6,322.9 L352.6,323.9 L354.6,324.9 L356.6,325.9 L358.6,326.8 L360.6,327.8 L362.6,328.7 L364.6,329.5 L366.6,330.4 L368.6,331.2 L370.6,332.0 L372.6,332.7 L374.6,333.4 L376.6,334.0 L378.6,334.5 L380.6,335.0 L382.6,335.4 L384.6,335.7 L386.6,335.9 L388.6,336.1 L390.6,336.2 L392.6,336.2 L394.6,336.2 L396.6,336.2 L398.6,336.2 L400.6,336.2 L402.6,336.2 L404.6,336.1 L406.6,336.1 L408.6,336.1 L410.6,336.1 L412.6,336.0 L414.6,336.0 L416.6,336.0 L418.6,335.9 L420.6,335.9 L422.6,335.8 L424.6,335.8 L426.6,335.7 L428.6,335.6 L430.6,335.6 L432.6,335.5 L434.6,335.4 L436.6,335.3 L438.6,335.2 L440.6,335.1 L442.6,335.0 L444.6,334.9 L446.6,334.7 L448.6,334.6 L450.6,334.4 L452.6,334.2 L454.6,334.1 L456.6,333.8 L458.6,333.6 L460.6,333.4 L462.6,333.1 L464.6,332.8 L466.6,332.4 L468.6,332.1 L470.6,331.7 L472.6,331.2 L474.6,330.7 L476.6,330.2 L478.6,329.6 L480.6,329.0 L482.6,328.2 L484.6,327.5 L486.6,326.6 L488.6,325.6 L490.6,324.5 L492.6,323.3 L494.6,321.9 L495.0,321.6 L496.3,320.6 L497.5,319.6 L498.6,318.6 L499.7,317.6 L500.6,316.6 L501.5,315.6 L502.4,314.6 L503.2,313.6 L504.0,312.6 L504.7,311.6 L505.4,310.6 L506.0,309.6 L506.7,308.6 L507.3,307.6 L507.8,306.6 L508.4,305.6 L508.9,304.6 L509.4,303.6 L509.8,302.6 L510.3,301.6 L510.7,300.6 L511.1,299.6 L511.5,298.6 L511.9,297.6 L512.3,296.6 L512.6,295.6 L512.9,294.6 L513.3,293.6 L513.6,292.6 L513.9,291.6 L514.2,290.6 L514.5,289.6 L514.7,288.6 L515.0,287.6 L515.2,286.6 L515.5,285.6 L515.7,284.6 L515.9,283.6 L516.2,282.6 L516.4,281.6 L516.6,280.6 L516.8,279.6 L517.0,278.6 L517.2,277.6 L517.3,276.6 L517.5,275.6 L517.7,274.6 L517.9,273.6 L518.0,272.6 L518.2,271.6 L518.3,270.6 L518.5,269.6 L518.6,268.6 L518.7,267.6 L518.9,266.6 L519.0,265.6 L519.1,264.6 L519.3,263.6 L519.4,262.6 L519.5,261.6 L519.6,260.6 L519.7,259.6 L519.8,258.6 L519.9,257.6 L520.0,256.6 L520.1,255.6 L520.2,254.6 L520.3,253.6 L520.4,252.6 L520.5,251.6 L520.6,250.6 L520.6,249.6 L520.7,248.6 L520.8,247.6 L520.9,246.6 L520.9,245.6 L521.0,244.6 L521.1,243.6 L521.2,242.6 L521.2,241.6 L521.3,240.6 L521.3,239.6 L521.4,238.6 L521.5,237.6 L521.5,236.6 L521.6,235.6 L521.6,234.6 L521.7,233.6 L521.7,232.6 L521.8,231.6 L521.8,230.6 L521.9,229.6 L521.9,228.6 L522.0,227.6 L522.0,226.6 L522.1,225.6 L522.1,224.6 L522.2,223.6 L522.2,222.6 L522.2,221.6 L522.3,220.6 L522.3,219.6 L522.3,218.6 L522.4,217.6 L522.4,216.6 L522.4,215.6 L522.5,214.6 L522.5,213.6 L522.5,212.6 L522.6,211.6 L522.6,210.6 L522.6,209.6 L522.7,208.6 L522.7,207.6 L522.7,206.6 L522.7,205.6 L522.8,204.6 L522.8,203.6 L522.8,202.6 L522.8,201.6 L522.9,200.6 L522.9,199.6 L522.9,198.6 L522.9,197.6 L522.9,196.6 L523.0,195.6 L523.0,194.6 L523.0,193.6 L523.0,192.6 L523.0,191.6 L523.1,190.6 L523.1,189.6 L523.1,188.6 L523.1,187.6 L523.1,186.6 L523.1,185.6 L523.1,184.6 L523.2,183.6 L523.2,182.6 L523.2,181.6 L523.2,180.6 L523.2,179.6 L523.2,178.6 L523.2,177.6 L523.3,176.6 L523.3,175.6 L523.3,174.6 L523.3,173.6 L523.3,172.6 L523.3,171.6 L523.3,170.6 L523.3,169.6 L523.3,168.6 L523.4,167.6 L523.4,166.6 L523.4,165.6 L523.4,164.6 L523.4,163.6 L523.4,162.6 L523.4,161.6 L523.4,160.6 L523.4,159.6 L523.4,158.6 L523.4,157.6 L523.5,156.6 L523.5,155.6 L523.5,154.6 L523.5,153.6 L523.5,152.6 L523.5,151.6 L523.5,150.6 L523.5,149.6 L523.5,148.6 L523.5,147.6 L523.5,146.6 L523.5,145.6 L523.5,144.6 L523.5,143.6 L523.5,142.6 L523.5,141.6 L523.6,140.6 L523.6,139.6 L523.6,138.6 L523.6,137.6 L523.6,136.6 L523.6,135.6 L523.6,134.6 L523.6,133.6 L523.6,132.6 L523.6,131.6 L523.6,130.6 L523.6,129.6 L523.6,128.6 L523.6,127.6 L523.6,126.6 L523.6,125.6 L523.6,124.6 L523.6,123.6 L523.6,122.6 L523.6,121.6 L523.6,120.6 L523.6,119.6 L523.6,118.6 L523.6,117.6 L523.6,116.6 L523.6,115.6 L523.7,114.6 L523.7,113.6 L523.7,112.6 L523.7,111.6 L523.7,110.6 L523.7,109.6 L523.7,108.6 L523.7,107.6 L523.7,106.6 L523.7,105.6 L523.7,104.6 L523.7,103.6 L523.7,102.6 L523.7,101.6 L523.7,100.6 L523.7,99.6 L523.7,98.6 L523.7,97.6 L523.7,96.6 L523.7,95.6 L523.7,94.6 L523.7,93.6 L523.7,92.6 L523.7,91.6 L523.7,90.6 L523.7,89.6 L523.7,88.6 L523.7,87.6 L523.7,86.6" fill="none" stroke="#9838a2" stroke-width="2.7" stroke-dasharray="4 3.75"/>
<path d="M264.7,263.0 L266.7,264.1 L268.7,265.3 L270.7,266.4 L272.7,267.5 L274.7,268.7 L276.7,269.8 L278.7,270.9 L280.7,272.1 L282.7,273.2 L284.7,274.3 L286.7,275.4 L288.7,276.6 L290.7,277.7 L292.7,278.8 L294.7,279.9 L296.7,281.0 L298.7,282.2 L300.7,283.3 L302.7,284.4 L304.7,285.5 L306.7,286.6 L308.7,287.7 L310.7,288.8 L312.7,289.8 L314.7,290.9 L316.7,292.0 L318.7,293.1 L320.7,294.1 L322.7,295.2 L324.7,296.2 L326.7,297.2 L328.7,298.2 L330.7,299.2 L332.7,300.2 L334.7,301.2 L336.7,302.2 L338.7,303.1 L340.7,304.0 L342.7,304.9 L344.7,305.8 L346.7,306.6 L348.7,307.4 L350.7,308.1 L352.7,308.8 L354.7,309.4 L356.7,310.0 L358.7,310.5 L360.7,311.0 L362.7,311.3 L364.7,311.6 L366.7,311.8 L368.7,311.9 L370.7,311.9 L372.7,312.0 L374.7,312.0 L376.7,312.0 L378.7,312.0 L380.7,312.0 L382.7,311.9 L384.7,311.9 L386.7,311.9 L388.7,311.9 L390.7,311.9 L392.7,311.9 L394.7,311.9 L396.7,311.9 L398.7,311.8 L400.7,311.8 L402.7,311.8 L404.7,311.8 L406.7,311.7 L408.7,311.7 L410.7,311.7 L412.7,311.7 L414.7,311.6 L416.7,311.6 L418.7,311.5 L420.7,311.5 L422.7,311.4 L424.7,311.4 L426.7,311.3 L428.7,311.3 L430.7,311.2 L432.7,311.1 L434.7,311.0 L436.7,310.9 L438.7,310.8 L440.7,310.7 L442.7,310.6 L444.7,310.5 L446.7,310.4 L448.7,310.2 L450.7,310.0 L452.7,309.9 L454.7,309.7 L456.7,309.5 L458.7,309.2 L460.7,309.0 L462.7,308.7 L464.7,308.4 L466.7,308.0 L468.7,307.7 L470.7,307.3 L472.7,306.8 L474.7,306.3 L476.7,305.8 L478.7,305.2 L480.7,304.6 L482.7,303.8 L484.7,303.0 L486.7,302.2 L488.7,301.2 L490.7,300.1 L492.7,298.8 L494.7,297.5 L495.0,297.2 L496.3,296.2 L497.5,295.2 L498.6,294.2 L499.7,293.2 L500.6,292.2 L501.5,291.2 L502.4,290.2 L503.2,289.2 L504.0,288.2 L504.7,287.2 L505.4,286.2 L506.0,285.2 L506.7,284.2 L507.3,283.2 L507.8,282.2 L508.4,281.2 L508.9,280.2 L509.4,279.2 L509.8,278.2 L510.3,277.2 L510.7,276.2 L511.1,275.2 L511.5,274.2 L511.9,273.2 L512.3,272.2 L512.6,271.2 L512.9,270.2 L513.3,269.2 L513.6,268.2 L513.9,267.2 L514.2,266.2 L514.5,265.2 L514.7,264.2 L515.0,263.2 L515.2,262.2 L515.5,261.2 L515.7,260.2 L515.9,259.2 L516.2,258.2 L516.4,257.2 L516.6,256.2 L516.8,255.2 L517.0,254.2 L517.2,253.2 L517.3,252.2 L517.5,251.2 L517.7,250.2 L517.9,249.2 L518.0,248.2 L518.2,247.2 L518.3,246.2 L518.5,245.2 L518.6,244.2 L518.7,243.2 L518.9,242.2 L519.0,241.2 L519.1,240.2 L519.3,239.2 L519.4,238.2 L519.5,237.2 L519.6,236.2 L519.7,235.2 L519.8,234.2 L519.9,233.2 L520.0,232.2 L520.1,231.2 L520.2,230.2 L520.3,229.2 L520.4,228.2 L520.5,227.2 L520.6,226.2 L520.6,225.2 L520.7,224.2 L520.8,223.2 L520.9,222.2 L520.9,221.2 L521.0,220.2 L521.1,219.2 L521.2,218.2 L521.2,217.2 L521.3,216.2 L521.3,215.2 L521.4,214.2 L521.5,213.2 L521.5,212.2 L521.6,211.2 L521.6,210.2 L521.7,209.2 L521.7,208.2 L521.8,207.2 L521.8,206.2 L521.9,205.2 L521.9,204.2 L522.0,203.2 L522.0,202.2 L522.1,201.2 L522.1,200.2 L522.2,199.2 L522.2,198.2 L522.2,197.2 L522.3,196.2 L522.3,195.2 L522.3,194.2 L522.4,193.2 L522.4,192.2 L522.4,191.2 L522.5,190.2 L522.5,189.2 L522.5,188.2 L522.6,187.2 L522.6,186.2 L522.6,185.2 L522.7,184.2 L522.7,183.2 L522.7,182.2 L522.7,181.2 L522.8,180.2 L522.8,179.2 L522.8,178.2 L522.8,177.2 L522.9,176.2 L522.9,175.2 L522.9,174.2 L522.9,173.2 L522.9,172.2 L523.0,171.2 L523.0,170.2 L523.0,169.2 L523.0,168.2 L523.0,167.2 L523.1,166.2 L523.1,165.2 L523.1,164.2 L523.1,163.2 L523.1,162.2 L523.1,161.2 L523.1,160.2 L523.2,159.2 L523.2,158.2 L523.2,157.2 L523.2,156.2 L523.2,155.2 L523.2,154.2 L523.2,153.2 L523.3,152.2 L523.3,151.2 L523.3,150.2 L523.3,149.2 L523.3,148.2 L523.3,147.2 L523.3,146.2 L523.3,145.2 L523.3,144.2 L523.4,143.2 L523.4,142.2 L523.4,141.2 L523.4,140.2 L523.4,139.2 L523.4,138.2 L523.4,137.2 L523.4,136.2 L523.4,135.2 L523.4,134.2 L523.4,133.2 L523.5,132.2 L523.5,131.2 L523.5,130.2 L523.5,129.2 L523.5,128.2 L523.5,127.2 L523.5,126.2 L523.5,125.2 L523.5,124.2 L523.5,123.2 L523.5,122.2 L523.5,121.2 L523.5,120.2 L523.5,119.2 L523.5,118.2 L523.5,117.2 L523.6,116.2 L523.6,115.2 L523.6,114.2 L523.6,113.2 L523.6,112.2 L523.6,111.2 L523.6,110.2 L523.6,109.2 L523.6,108.2 L523.6,107.2 L523.6,106.2 L523.6,105.2 L523.6,104.2 L523.6,103.2 L523.6,102.2 L523.6,101.2 L523.6,100.2 L523.6,99.2 L523.6,98.2 L523.6,97.2 L523.6,96.2 L523.6,95.2 L523.6,94.2 L523.6,93.2 L523.6,92.2 L523.6,91.2 L523.7,90.2 L523.7,89.2 L523.7,88.2 L523.7,87.2 L523.7,86.2" fill="none" stroke="#0000aa" stroke-width="2.8" stroke-linejoin="round"/>
<path d="M268.7,271.3 L270.7,272.5 L272.7,273.6 L274.7,274.8 L276.7,275.9 L278.7,277.0 L280.7,278.2 L282.7,279.3 L284.7,280.4 L286.7,281.6 L288.7,282.7 L290.7,283.8 L292.7,285.0 L294.7,286.1 L296.7,287.2 L298.7,288.4 L300.7,289.5 L302.7,290.6 L304.7,291.7 L306.7,292.8 L308.7,293.9 L310.7,295.1 L312.7,296.2 L314.7,297.3 L316.7,298.4 L318.7,299.5 L320.7,300.6 L322.7,301.6 L324.7,302.7 L326.7,303.8 L328.7,304.9 L330.7,305.9 L332.7,307.0 L334.7,308.0 L336.7,309.0 L338.7,310.1 L340.7,311.1 L342.7,312.1 L344.7,313.0 L346.7,314.0 L348.7,314.9 L350.7,315.9 L352.7,316.8 L354.7,317.6 L356.7,318.5 L358.7,319.2 L360.7,320.0 L362.7,320.7 L364.7,321.4 L366.7,322.0 L368.7,322.5 L370.7,322.9 L372.7,323.3 L374.7,323.6 L376.7,323.8 L378.7,323.9 L380.7,324.0 L382.7,324.0 L384.7,324.0 L386.7,324.0 L388.7,324.0 L390.7,324.0 L392.7,324.0 L394.7,324.0 L396.7,324.0 L398.7,323.9 L400.7,323.9 L402.7,323.9 L404.7,323.9 L406.7,323.9 L408.7,323.8 L410.7,323.8 L412.7,323.8 L414.7,323.7 L416.7,323.7 L418.7,323.6 L420.7,323.6 L422.7,323.6 L424.7,323.5 L426.7,323.4 L428.7,323.4 L430.7,323.3 L432.7,323.2 L434.7,323.1 L436.7,323.1 L438.7,323.0 L440.7,322.9 L442.7,322.7 L444.7,322.6 L446.7,322.5 L448.7,322.3 L450.7,322.2 L452.7,322.0 L454.7,321.8 L456.7,321.6 L458.7,321.3 L460.7,321.1 L462.7,320.8 L464.7,320.5 L466.7,320.2 L468.7,319.8 L470.7,319.4 L472.7,318.9 L474.7,318.4 L476.7,317.9 L478.7,317.3 L480.7,316.7 L482.7,315.9 L484.7,315.1 L486.7,314.3 L488.7,313.3 L490.7,312.2 L492.7,311.0 L494.7,309.6 L495.0,309.4 L496.3,308.4 L497.5,307.4 L498.6,306.4 L499.7,305.4 L500.6,304.4 L501.5,303.4 L502.4,302.4 L503.2,301.4 L504.0,300.4 L504.7,299.4 L505.4,298.4 L506.0,297.4 L506.7,296.4 L507.3,295.4 L507.8,294.4 L508.4,293.4 L508.9,292.4 L509.4,291.4 L509.8,290.4 L510.3,289.4 L510.7,288.4 L511.1,287.4 L511.5,286.4 L511.9,285.4 L512.3,284.4 L512.6,283.4 L512.9,282.4 L513.3,281.4 L513.6,280.4 L513.9,279.4 L514.2,278.4 L514.5,277.4 L514.7,276.4 L515.0,275.4 L515.2,274.4 L515.5,273.4 L515.7,272.4 L515.9,271.4 L516.2,270.4 L516.4,269.4 L516.6,268.4 L516.8,267.4 L517.0,266.4 L517.2,265.4 L517.3,264.4 L517.5,263.4 L517.7,262.4 L517.9,261.4 L518.0,260.4 L518.2,259.4 L518.3,258.4 L518.5,257.4 L518.6,256.4 L518.7,255.4 L518.9,254.4 L519.0,253.4 L519.1,252.4 L519.3,251.4 L519.4,250.4 L519.5,249.4 L519.6,248.4 L519.7,247.4 L519.8,246.4 L519.9,245.4 L520.0,244.4 L520.1,243.4 L520.2,242.4 L520.3,241.4 L520.4,240.4 L520.5,239.4 L520.6,238.4 L520.6,237.4 L520.7,236.4 L520.8,235.4 L520.9,234.4 L520.9,233.4 L521.0,232.4 L521.1,231.4 L521.2,230.4 L521.2,229.4 L521.3,228.4 L521.3,227.4 L521.4,226.4 L521.5,225.4 L521.5,224.4 L521.6,223.4 L521.6,222.4 L521.7,221.4 L521.7,220.4 L521.8,219.4 L521.8,218.4 L521.9,217.4 L521.9,216.4 L522.0,215.4 L522.0,214.4 L522.1,213.4 L522.1,212.4 L522.2,211.4 L522.2,210.4 L522.2,209.4 L522.3,208.4 L522.3,207.4 L522.3,206.4 L522.4,205.4 L522.4,204.4 L522.4,203.4 L522.5,202.4 L522.5,201.4 L522.5,200.4 L522.6,199.4 L522.6,198.4 L522.6,197.4 L522.7,196.4 L522.7,195.4 L522.7,194.4 L522.7,193.4 L522.8,192.4 L522.8,191.4 L522.8,190.4 L522.8,189.4 L522.9,188.4 L522.9,187.4 L522.9,186.4 L522.9,185.4 L522.9,184.4 L523.0,183.4 L523.0,182.4 L523.0,181.4 L523.0,180.4 L523.0,179.4 L523.1,178.4 L523.1,177.4 L523.1,176.4 L523.1,175.4 L523.1,174.4 L523.1,173.4 L523.1,172.4 L523.2,171.4 L523.2,170.4 L523.2,169.4 L523.2,168.4 L523.2,167.4 L523.2,166.4 L523.2,165.4 L523.3,164.4 L523.3,163.4 L523.3,162.4 L523.3,161.4 L523.3,160.4 L523.3,159.4 L523.3,158.4 L523.3,157.4 L523.3,156.4 L523.4,155.4 L523.4,154.4 L523.4,153.4 L523.4,152.4 L523.4,151.4 L523.4,150.4 L523.4,149.4 L523.4,148.4 L523.4,147.4 L523.4,146.4 L523.4,145.4 L523.5,144.4 L523.5,143.4 L523.5,142.4 L523.5,141.4 L523.5,140.4 L523.5,139.4 L523.5,138.4 L523.5,137.4 L523.5,136.4 L523.5,135.4 L523.5,134.4 L523.5,133.4 L523.5,132.4 L523.5,131.4 L523.5,130.4 L523.5,129.4 L523.6,128.4 L523.6,127.4 L523.6,126.4 L523.6,125.4 L523.6,124.4 L523.6,123.4 L523.6,122.4 L523.6,121.4 L523.6,120.4 L523.6,119.4 L523.6,118.4 L523.6,117.4 L523.6,116.4 L523.6,115.4 L523.6,114.4 L523.6,113.4 L523.6,112.4 L523.6,111.4 L523.6,110.4 L523.6,109.4 L523.6,108.4 L523.6,107.4 L523.6,106.4 L523.6,105.4 L523.6,104.4 L523.6,103.4 L523.7,102.4 L523.7,101.4 L523.7,100.4 L523.7,99.4 L523.7,98.4 L523.7,97.4 L523.7,96.4 L523.7,95.4 L523.7,94.4 L523.7,93.4 L523.7,92.4 L523.7,91.4 L523.7,90.4 L523.7,89.4 L523.7,88.4 L523.7,87.4 L523.7,86.4" fill="none" stroke="#00aa00" stroke-width="2.8" stroke-linejoin="round"/>
<path d="M270.6,275.1 L272.6,276.2 L274.6,277.3 L276.6,278.5 L278.6,279.6 L280.6,280.8 L282.6,281.9 L284.6,283.0 L286.6,284.2 L288.6,285.3 L290.6,286.4 L292.6,287.6 L294.6,288.7 L296.6,289.8 L298.6,291.0 L300.6,292.1 L302.6,293.2 L304.6,294.3 L306.6,295.5 L308.6,296.6 L310.6,297.7 L312.6,298.8 L314.6,299.9 L316.6,301.0 L318.6,302.1 L320.6,303.2 L322.6,304.3 L324.6,305.4 L326.6,306.5 L328.6,307.6 L330.6,308.7 L332.6,309.7 L334.6,310.8 L336.6,311.9 L338.6,312.9 L340.6,313.9 L342.6,315.0 L344.6,316.0 L346.6,317.0 L348.6,318.0 L350.6,318.9 L352.6,319.9 L354.6,320.8 L356.6,321.7 L358.6,322.6 L360.6,323.4 L362.6,324.2 L364.6,325.0 L366.6,325.7 L368.6,326.4 L370.6,327.0 L372.6,327.5 L374.6,328.0 L376.6,328.4 L378.6,328.7 L380.6,329.0 L382.6,329.1 L384.6,329.2 L386.6,329.2 L388.6,329.2 L390.6,329.2 L392.6,329.2 L394.6,329.2 L396.6,329.2 L398.6,329.2 L400.6,329.2 L402.6,329.1 L404.6,329.1 L406.6,329.1 L408.6,329.1 L410.6,329.0 L412.6,329.0 L414.6,329.0 L416.6,328.9 L418.6,328.9 L420.6,328.8 L422.6,328.8 L424.6,328.7 L426.6,328.7 L428.6,328.6 L430.6,328.5 L432.6,328.5 L434.6,328.4 L436.6,328.3 L438.6,328.2 L440.6,328.1 L442.6,328.0 L444.6,327.9 L446.6,327.7 L448.6,327.6 L450.6,327.4 L452.6,327.2 L454.6,327.0 L456.6,326.8 L458.6,326.6 L460.6,326.3 L462.6,326.0 L464.6,325.7 L466.6,325.4 L468.6,325.0 L470.6,324.6 L472.6,324.2 L474.6,323.7 L476.6,323.2 L478.6,322.6 L480.6,321.9 L482.6,321.2 L484.6,320.4 L486.6,319.5 L488.6,318.6 L490.6,317.5 L492.6,316.3 L494.6,314.9 L495.0,314.6 L496.3,313.6 L497.5,312.6 L498.6,311.6 L499.7,310.6 L500.6,309.6 L501.5,308.6 L502.4,307.6 L503.2,306.6 L504.0,305.6 L504.7,304.6 L505.4,303.6 L506.0,302.6 L506.7,301.6 L507.3,300.6 L507.8,299.6 L508.4,298.6 L508.9,297.6 L509.4,296.6 L509.8,295.6 L510.3,294.6 L510.7,293.6 L511.1,292.6 L511.5,291.6 L511.9,290.6 L512.3,289.6 L512.6,288.6 L512.9,287.6 L513.3,286.6 L513.6,285.6 L513.9,284.6 L514.2,283.6 L514.5,282.6 L514.7,281.6 L515.0,280.6 L515.2,279.6 L515.5,278.6 L515.7,277.6 L515.9,276.6 L516.2,275.6 L516.4,274.6 L516.6,273.6 L516.8,272.6 L517.0,271.6 L517.2,270.6 L517.3,269.6 L517.5,268.6 L517.7,267.6 L517.9,266.6 L518.0,265.6 L518.2,264.6 L518.3,263.6 L518.5,262.6 L518.6,261.6 L518.7,260.6 L518.9,259.6 L519.0,258.6 L519.1,257.6 L519.3,256.6 L519.4,255.6 L519.5,254.6 L519.6,253.6 L519.7,252.6 L519.8,251.6 L519.9,250.6 L520.0,249.6 L520.1,248.6 L520.2,247.6 L520.3,246.6 L520.4,245.6 L520.5,244.6 L520.6,243.6 L520.6,242.6 L520.7,241.6 L520.8,240.6 L520.9,239.6 L520.9,238.6 L521.0,237.6 L521.1,236.6 L521.2,235.6 L521.2,234.6 L521.3,233.6 L521.3,232.6 L521.4,231.6 L521.5,230.6 L521.5,229.6 L521.6,228.6 L521.6,227.6 L521.7,226.6 L521.7,225.6 L521.8,224.6 L521.8,223.6 L521.9,222.6 L521.9,221.6 L522.0,220.6 L522.0,219.6 L522.1,218.6 L522.1,217.6 L522.2,216.6 L522.2,215.6 L522.2,214.6 L522.3,213.6 L522.3,212.6 L522.3,211.6 L522.4,210.6 L522.4,209.6 L522.4,208.6 L522.5,207.6 L522.5,206.6 L522.5,205.6 L522.6,204.6 L522.6,203.6 L522.6,202.6 L522.7,201.6 L522.7,200.6 L522.7,199.6 L522.7,198.6 L522.8,197.6 L522.8,196.6 L522.8,195.6 L522.8,194.6 L522.9,193.6 L522.9,192.6 L522.9,191.6 L522.9,190.6 L522.9,189.6 L523.0,188.6 L523.0,187.6 L523.0,186.6 L523.0,185.6 L523.0,184.6 L523.1,183.6 L523.1,182.6 L523.1,181.6 L523.1,180.6 L523.1,179.6 L523.1,178.6 L523.1,177.6 L523.2,176.6 L523.2,175.6 L523.2,174.6 L523.2,173.6 L523.2,172.6 L523.2,171.6 L523.2,170.6 L523.3,169.6 L523.3,168.6 L523.3,167.6 L523.3,166.6 L523.3,165.6 L523.3,164.6 L523.3,163.6 L523.3,162.6 L523.3,161.6 L523.4,160.6 L523.4,159.6 L523.4,158.6 L523.4,157.6 L523.4,156.6 L523.4,155.6 L523.4,154.6 L523.4,153.6 L523.4,152.6 L523.4,151.6 L523.4,150.6 L523.5,149.6 L523.5,148.6 L523.5,147.6 L523.5,146.6 L523.5,145.6 L523.5,144.6 L523.5,143.6 L523.5,142.6 L523.5,141.6 L523.5,140.6 L523.5,139.6 L523.5,138.6 L523.5,137.6 L523.5,136.6 L523.5,135.6 L523.5,134.6 L523.6,133.6 L523.6,132.6 L523.6,131.6 L523.6,130.6 L523.6,129.6 L523.6,128.6 L523.6,127.6 L523.6,126.6 L523.6,125.6 L523.6,124.6 L523.6,123.6 L523.6,122.6 L523.6,121.6 L523.6,120.6 L523.6,119.6 L523.6,118.6 L523.6,117.6 L523.6,116.6 L523.6,115.6 L523.6,114.6 L523.6,113.6 L523.6,112.6 L523.6,111.6 L523.6,110.6 L523.6,109.6 L523.6,108.6 L523.7,107.6 L523.7,106.6 L523.7,105.6 L523.7,104.6 L523.7,103.6 L523.7,102.6 L523.7,101.6 L523.7,100.6 L523.7,99.6 L523.7,98.6 L523.7,97.6 L523.7,96.6 L523.7,95.6 L523.7,94.6 L523.7,93.6 L523.7,92.6 L523.7,91.6 L523.7,90.6 L523.7,89.6 L523.7,88.6 L523.7,87.6 L523.7,86.6" fill="none" stroke="#aa0000" stroke-width="2.8" stroke-linejoin="round"/>
<path d="M62.6,3.0 L551.5,3.0 L551.5,98.4 L550.4,98.5 L546.8,99.0 L545.7,102.4 L539.3,101.4 L537.6,94.8 L529.3,101.7 L526.6,90.6 L524.6,92.8 L521.6,95.7 L511.4,106.8 L494.2,118.8 L475.4,132.5 L472.0,129.9 L467.7,129.9 L463.2,132.6 L448.3,137.6 L440.4,132.6 L436.0,139.6 L425.5,134.6 L417.6,119.7 L407.7,125.7 L399.7,118.7 L392.8,115.8 L392.5,94.4 L385.6,74.6 L383.2,49.3 L307.2,49.3 L297.3,57.8 L272.5,57.8 L263.6,60.8 L249.7,58.8 L228.9,54.8 L228.4,49.3 L223.1,49.5 L220.1,63.0 L217.7,53.8 L215.3,54.8 L213.5,49.3 L206.7,49.3 L203.8,59.0 L201.1,49.3 L152.3,49.3 L159.8,64.7 L165.8,82.6 L167.2,90.5 L166.6,96.6 L160.9,100.9 L173.8,115.8 L184.7,132.6 L195.6,149.5 L202.9,158.9 L212.2,175.8 L212.2,182.7 L225.7,202.5 L236.9,215.0 L247.8,232.8 L259.7,252.7 L269.6,268.5 L274.8,281.0 L276.3,287.0 L275.6,293.5 L272.0,300.8 L246.0,300.4 L232.9,299.3 L220.6,297.1 L200.0,305.0 L62.6,305.0Z" fill="#cccccc"/>
<path d="M62.6,232.3 L130.7,271.9 L155.9,285.8 L170.0,292.8 L180.9,301.5 L186.0,303.4 L191.7,304.3 L199.0,303.5 L206.9,301.5 L220.6,297.1 L259.0,353.6 L259.0,394.9 L62.6,394.9Z" fill="#b3b3b3"/>
<path d="M69.38,394.9v-2.6M69.38,3.0v2.6M75.79,394.9v-2.6M75.79,3.0v2.6M81.44,394.9v-2.6M81.44,3.0v2.6M86.50,394.9v-4.8M86.50,3.0v4.8M119.76,394.9v-2.6M119.76,3.0v2.6M139.22,394.9v-2.6M139.22,3.0v2.6M153.03,394.9v-2.6M153.03,3.0v2.6M163.74,394.9v-2.6M163.74,3.0v2.6M172.49,394.9v-2.6M172.49,3.0v2.6M179.88,394.9v-2.6M179.88,3.0v2.6M186.29,394.9v-2.6M186.29,3.0v2.6M191.94,394.9v-2.6M191.94,3.0v2.6M197.00,394.9v-4.8M197.00,3.0v4.8M230.26,394.9v-2.6M230.26,3.0v2.6M249.72,394.9v-2.6M249.72,3.0v2.6M263.53,394.9v-2.6M263.53,3.0v2.6M274.24,394.9v-2.6M274.24,3.0v2.6M282.99,394.9v-2.6M282.99,3.0v2.6M290.38,394.9v-2.6M290.38,3.0v2.6M296.79,394.9v-2.6M296.79,3.0v2.6M302.44,394.9v-2.6M302.44,3.0v2.6M307.50,394.9v-4.8M307.50,3.0v4.8M340.76,394.9v-2.6M340.76,3.0v2.6M360.22,394.9v-2.6M360.22,3.0v2.6M374.03,394.9v-2.6M374.03,3.0v2.6M384.74,394.9v-2.6M384.74,3.0v2.6M393.49,394.9v-2.6M393.49,3.0v2.6M400.88,394.9v-2.6M400.88,3.0v2.6M407.29,394.9v-2.6M407.29,3.0v2.6M412.94,394.9v-2.6M412.94,3.0v2.6M418.00,394.9v-4.8M418.00,3.0v4.8M451.26,394.9v-2.6M451.26,3.0v2.6M470.72,394.9v-2.6M470.72,3.0v2.6M484.53,394.9v-2.6M484.53,3.0v2.6M495.24,394.9v-2.6M495.24,3.0v2.6M503.99,394.9v-2.6M503.99,3.0v2.6M511.38,394.9v-2.6M511.38,3.0v2.6M517.79,394.9v-2.6M517.79,3.0v2.6M523.44,394.9v-2.6M523.44,3.0v2.6M528.50,394.9v-4.8M528.50,3.0v4.8M62.6,394.37h2.6M551.5,394.37h-2.6M62.6,383.22h2.6M551.5,383.22h-2.6M62.6,375.31h2.6M551.5,375.31h-2.6M62.6,369.17h2.6M551.5,369.17h-2.6M62.6,364.15h2.6M551.5,364.15h-2.6M62.6,359.91h2.6M551.5,359.91h-2.6M62.6,356.24h2.6M551.5,356.24h-2.6M62.6,353.00h2.6M551.5,353.00h-2.6M62.6,350.10h4.8M551.5,350.10h-4.8M62.6,331.03h2.6M551.5,331.03h-2.6M62.6,319.88h2.6M551.5,319.88h-2.6M62.6,311.97h2.6M551.5,311.97h-2.6M62.6,305.83h2.6M551.5,305.83h-2.6M62.6,300.81h2.6M551.5,300.81h-2.6M62.6,296.57h2.6M551.5,296.57h-2.6M62.6,292.90h2.6M551.5,292.90h-2.6M62.6,289.66h2.6M551.5,289.66h-2.6M62.6,286.76h4.8M551.5,286.76h-4.8M62.6,267.69h2.6M551.5,267.69h-2.6M62.6,256.54h2.6M551.5,256.54h-2.6M62.6,248.63h2.6M551.5,248.63h-2.6M62.6,242.49h2.6M551.5,242.49h-2.6M62.6,237.47h2.6M551.5,237.47h-2.6M62.6,233.23h2.6M551.5,233.23h-2.6M62.6,229.56h2.6M551.5,229.56h-2.6M62.6,226.32h2.6M551.5,226.32h-2.6M62.6,223.42h4.8M551.5,223.42h-4.8M62.6,204.35h2.6M551.5,204.35h-2.6M62.6,193.20h2.6M551.5,193.20h-2.6M62.6,185.29h2.6M551.5,185.29h-2.6M62.6,179.15h2.6M551.5,179.15h-2.6M62.6,174.13h2.6M551.5,174.13h-2.6M62.6,169.89h2.6M551.5,169.89h-2.6M62.6,166.22h2.6M551.5,166.22h-2.6M62.6,162.98h2.6M551.5,162.98h-2.6M62.6,160.08h4.8M551.5,160.08h-4.8M62.6,141.01h2.6M551.5,141.01h-2.6M62.6,129.86h2.6M551.5,129.86h-2.6M62.6,121.95h2.6M551.5,121.95h-2.6M62.6,115.81h2.6M551.5,115.81h-2.6M62.6,110.79h2.6M551.5,110.79h-2.6M62.6,106.55h2.6M551.5,106.55h-2.6M62.6,102.88h2.6M551.5,102.88h-2.6M62.6,99.64h2.6M551.5,99.64h-2.6M62.6,96.74h4.8M551.5,96.74h-4.8M62.6,77.67h2.6M551.5,77.67h-2.6M62.6,66.52h2.6M551.5,66.52h-2.6M62.6,58.61h2.6M551.5,58.61h-2.6M62.6,52.47h2.6M551.5,52.47h-2.6M62.6,47.45h2.6M551.5,47.45h-2.6M62.6,43.21h2.6M551.5,43.21h-2.6M62.6,39.54h2.6M551.5,39.54h-2.6M62.6,36.30h2.6M551.5,36.30h-2.6M62.6,33.40h4.8M551.5,33.40h-4.8M62.6,14.33h2.6M551.5,14.33h-2.6M62.6,3.18h2.6M551.5,3.18h-2.6" stroke="#484848" stroke-width="0.9" fill="none"/>
<rect x="62.6" y="3.0" width="488.9" height="391.9" fill="none" stroke="#686868" stroke-width="1.15"/>
<text x="86.5" y="411.4" font-family="Liberation Sans, Arial, Helvetica, sans-serif" class="t" font-size="15.0" text-anchor="middle" fill="#000" stroke="#000">0.01</text>
<text x="197.0" y="411.4" font-family="Liberation Sans, Arial, Helvetica, sans-serif" class="t" font-size="15.0" text-anchor="middle" fill="#000" stroke="#000">0.10</text>
<text x="307.5" y="411.4" font-family="Liberation Sans, Arial, Helvetica, sans-serif" class="t" font-size="15.0" text-anchor="middle" fill="#000" stroke="#000">1</text>
<text x="418.0" y="411.4" font-family="Liberation Sans, Arial, Helvetica, sans-serif" class="t" font-size="15.0" text-anchor="middle" fill="#000" stroke="#000">10</text>
<text x="528.5" y="411.4" font-family="Liberation Sans, Arial, Helvetica, sans-serif" class="t" font-size="15.0" text-anchor="middle" fill="#000" stroke="#000">100</text>
<text x="58.9" y="354.8" font-family="Liberation Sans, Arial, Helvetica, sans-serif" class="t" font-size="15.0" text-anchor="end" fill="#000" stroke="#000">0.01</text>
<text x="58.9" y="291.5" font-family="Liberation Sans, Arial, Helvetica, sans-serif" class="t" font-size="15.0" text-anchor="end" fill="#000" stroke="#000">0.10</text>
<text x="58.9" y="228.1" font-family="Liberation Sans, Arial, Helvetica, sans-serif" class="t" font-size="15.0" text-anchor="end" fill="#000" stroke="#000">1</text>
<text x="58.9" y="164.8" font-family="Liberation Sans, Arial, Helvetica, sans-serif" class="t" font-size="15.0" text-anchor="end" fill="#000" stroke="#000">10</text>
<text x="58.9" y="101.4" font-family="Liberation Sans, Arial, Helvetica, sans-serif" class="t" font-size="15.0" text-anchor="end" fill="#000" stroke="#000">100</text>
<text x="58.9" y="38.1" font-family="Liberation Sans, Arial, Helvetica, sans-serif" class="t" font-size="15.0" text-anchor="end" fill="#000" stroke="#000">1000</text>
<text y="433" font-family="Liberation Sans, Arial, Helvetica, sans-serif" class="t" font-size="15.0" fill="#000" stroke="#000"><tspan x="275.6" font-style="italic">m</tspan><tspan x="288.6" font-style="italic" font-size="10.5" dy="3">a</tspan><tspan x="299.2" dy="-3">[GeV]</tspan></text>
<text transform="translate(14.2,240.2) rotate(-90)" font-family="Liberation Sans, Arial, Helvetica, sans-serif" class="t" font-size="15.0" fill="#000" stroke="#000"><tspan x="-0.3" font-style="italic">c</tspan><tspan x="8.0" dy="3.2" font-style="italic" font-size="10.5">γ</tspan><tspan x="13.8" font-style="italic" font-size="10.5">γ</tspan><tspan x="19.9" dy="-3.2">/f</tspan><tspan x="33.9">[</tspan><tspan x="39.1">T</tspan><tspan x="48.0">e</tspan><tspan x="58.0">V</tspan><tspan x="67.1" dy="-5.6" font-size="10.5">−1</tspan><tspan x="78.5" dy="5.6">]</tspan></text>
<text x="306.7" y="30.7" font-family="Liberation Sans, Arial, Helvetica, sans-serif" class="u" font-size="13.6" text-anchor="middle" fill="#222" stroke="#222">excluded by direct searches</text>
<text x="135.4" y="340.7" font-family="Liberation Sans, Arial, Helvetica, sans-serif" class="u" font-size="13.55" text-anchor="middle" fill="#222" stroke="#222">SN 1987A</text>
<text x="135" y="360.1" font-family="Liberation Sans, Arial, Helvetica, sans-serif" class="u" font-size="13.55" text-anchor="middle" fill="#222" stroke="#222">GW 170817</text>
<text y="71.5" font-family="Liberation Sans, Arial, Helvetica, sans-serif" class="v" font-size="15.5" fill="#360640" stroke="#360640"><tspan x="277.5" font-style="italic">N</tspan><tspan x="288.4" dy="2.5" font-style="italic" font-size="10.5">Z</tspan><tspan x="299.5" dy="-1.5">=</tspan><tspan x="313.2" dy="-1.0">10</tspan><tspan x="330.5" dy="-7.7" font-size="10.0">4</tspan></text>
<text y="103" font-family="Liberation Sans, Arial, Helvetica, sans-serif" class="v" font-size="15.5" fill="#410c4b" stroke="#410c4b"><tspan x="277.5" font-style="italic">N</tspan><tspan x="288.4" dy="2.5" font-style="italic" font-size="10.5">Z</tspan><tspan x="299.5" dy="-1.5">=</tspan><tspan x="313.2" dy="-1.0">10</tspan><tspan x="330.5" dy="-7.7" font-size="10.0">5</tspan></text>
<text y="135" font-family="Liberation Sans, Arial, Helvetica, sans-serif" class="v" font-size="15.5" fill="#4c1156" stroke="#4c1156"><tspan x="277.5" font-style="italic">N</tspan><tspan x="288.4" dy="2.5" font-style="italic" font-size="10.5">Z</tspan><tspan x="299.5" dy="-1.5">=</tspan><tspan x="313.2" dy="-1.0">10</tspan><tspan x="330.5" dy="-7.7" font-size="10.0">6</tspan></text>
<text y="167" font-family="Liberation Sans, Arial, Helvetica, sans-serif" class="v" font-size="15.5" fill="#571761" stroke="#571761"><tspan x="277.5" font-style="italic">N</tspan><tspan x="288.4" dy="2.5" font-style="italic" font-size="10.5">Z</tspan><tspan x="299.5" dy="-1.5">=</tspan><tspan x="313.2" dy="-1.0">10</tspan><tspan x="330.5" dy="-7.7" font-size="10.0">7</tspan></text>
<text y="171.7" font-family="Liberation Sans, Arial, Helvetica, sans-serif" class="v" font-size="15.5" fill="#621c6c" stroke="#621c6c"><tspan x="399.6" font-style="italic">N</tspan><tspan x="410.5" dy="2.5" font-style="italic" font-size="10.5">Z</tspan><tspan x="421.6" dy="-1.5">=</tspan><tspan x="435.3" dy="-1.0">10</tspan><tspan x="452.6" dy="-7.7" font-size="10.0">8</tspan></text>
<text y="203.7" font-family="Liberation Sans, Arial, Helvetica, sans-serif" class="v" font-size="15.5" fill="#6c2276" stroke="#6c2276"><tspan x="399.6" font-style="italic">N</tspan><tspan x="410.5" dy="2.5" font-style="italic" font-size="10.5">Z</tspan><tspan x="421.6" dy="-1.5">=</tspan><tspan x="435.3" dy="-1.0">10</tspan><tspan x="452.6" dy="-7.7" font-size="10.0">9</tspan></text>
<text y="235.7" font-family="Liberation Sans, Arial, Helvetica, sans-serif" class="v" font-size="15.5" fill="#772781" stroke="#772781"><tspan x="396.2" font-style="italic">N</tspan><tspan x="407.1" dy="2.5" font-style="italic" font-size="10.5">Z</tspan><tspan x="418.2" dy="-1.5">=</tspan><tspan x="431.9" dy="-1.0">10</tspan><tspan x="449.2" dy="-7.7" font-size="10.0">10</tspan></text>
<text y="267.5" font-family="Liberation Sans, Arial, Helvetica, sans-serif" class="v" font-size="15.5" fill="#822d8c" stroke="#822d8c"><tspan x="396.3" font-style="italic">N</tspan><tspan x="407.2" dy="2.5" font-style="italic" font-size="10.5">Z</tspan><tspan x="418.3" dy="-1.5">=</tspan><tspan x="432.0" dy="-1.0">10</tspan><tspan x="449.3" dy="-7.7" font-size="10.0">11</tspan></text>
<text y="299.2" font-family="Liberation Sans, Arial, Helvetica, sans-serif" class="v" font-size="15.5" fill="#8d3297" stroke="#8d3297"><tspan x="396.3" font-style="italic">N</tspan><tspan x="407.2" dy="2.5" font-style="italic" font-size="10.5">Z</tspan><tspan x="418.3" dy="-1.5">=</tspan><tspan x="432.0" dy="-1.0">10</tspan><tspan x="449.3" dy="-7.7" font-size="10.0">12</tspan></text>
<text y="353.4" font-family="Liberation Sans, Arial, Helvetica, sans-serif" class="v" font-size="15.5" fill="#9838a2" stroke="#9838a2"><tspan x="396.3" font-style="italic">N</tspan><tspan x="407.2" dy="2.5" font-style="italic" font-size="10.5">Z</tspan><tspan x="418.3" dy="-1.5">=</tspan><tspan x="432.0" dy="-1.0">10</tspan><tspan x="449.3" dy="-7.7" font-size="10.0">13</tspan></text>
<text y="348.8" font-family="Liberation Sans, Arial, Helvetica, sans-serif" class="v" font-size="15.5" fill="#0000aa" stroke="#0000aa"><tspan x="264.5" font-style="italic">N</tspan><tspan x="275.4" dy="2.5" font-style="italic" font-size="10.5">Z</tspan><tspan x="286.5" dy="-1.5">=</tspan><tspan x="299.7" dy="-1.0">1.7</tspan><tspan x="327.1" font-size="13">×</tspan><tspan x="339.0">10</tspan><tspan x="356.7" dy="-7.7" font-size="10.0">12</tspan></text>
<text y="366.1" font-family="Liberation Sans, Arial, Helvetica, sans-serif" class="v" font-size="15.5" fill="#00aa00" stroke="#00aa00"><tspan x="264.5" font-style="italic">N</tspan><tspan x="275.4" dy="2.5" font-style="italic" font-size="10.5">Z</tspan><tspan x="286.5" dy="-1.5">=</tspan><tspan x="299.7" dy="-1.0">4.1</tspan><tspan x="327.1" font-size="13">×</tspan><tspan x="339.0">10</tspan><tspan x="356.7" dy="-7.7" font-size="10.0">12</tspan></text>
<text y="384.1" font-family="Liberation Sans, Arial, Helvetica, sans-serif" class="v" font-size="15.5" fill="#aa0000" stroke="#aa0000"><tspan x="264.5" font-style="italic">N</tspan><tspan x="275.4" dy="2.5" font-style="italic" font-size="10.5">Z</tspan><tspan x="286.5" dy="-1.5">=</tspan><tspan x="299.7" dy="-1.0">6.0</tspan><tspan x="327.1" font-size="13">×</tspan><tspan x="339.0">10</tspan><tspan x="356.7" dy="-7.7" font-size="10.0">12</tspan></text>
</svg>
</body></html>
